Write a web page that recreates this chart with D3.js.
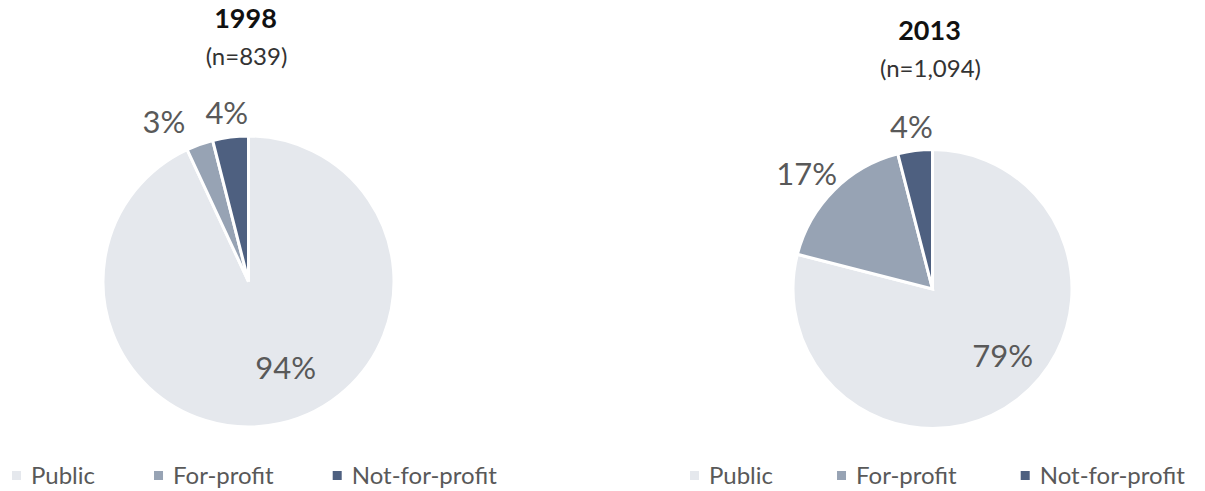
<!DOCTYPE html>
<html>
<head>
<meta charset="utf-8">
<script src="https://cdn.jsdelivr.net/npm/d3@7"></script>
<style>
  body { margin: 0; background: #fff; }
  text { font-family: Lato, "Open Sans", sans-serif; }
</style>
</head>
<body>
<div id="chart"></div>
<script>
var categories = ['Public', 'For-profit', 'Not-for-profit'];
var years = ['1998', '2013'];
var counts = ['(n=839)', '(n=1,094)'];
var values1998 = [94, 3, 4];
var values2013 = [79, 17, 4];

var width = 1205, height = 491;

var svg = d3.select('#chart').append('svg')
    .attr('width', width)
    .attr('height', height);

var colour = d3.scaleOrdinal()
    .domain(categories)
    .range(['#e5e8ed', '#97a3b4', '#4e6080']);

var charts = [
  {year: years[0], n: counts[0], values: values1998, cx: 248.5, cy: 281.5, r: 145.5, titleY: 28, legendX: 12, gap: 59},
  {year: years[1], n: counts[1], values: values2013, cx: 932.5, cy: 289, r: 139.5, titleY: 40, legendX: 690, gap: 64}
];

var pie = d3.pie().sort(null).value(function(d) { return d.value; });

charts.forEach(function(c) {
  var data = categories.map(function(k, i) { return {key: k, value: c.values[i]}; });
  var arcs = pie(data);
  var arc = d3.arc().innerRadius(0).outerRadius(c.r);

  var g = svg.append('g')
      .attr('transform', 'translate(' + c.cx + ',' + c.cy + ')');

  g.selectAll('path')
      .data(arcs)
    .enter().append('path')
      .attr('d', arc)
      .style('fill', function(d) { return colour(d.data.key); })
      .style('stroke', '#fff')
      .style('stroke-width', 3)
      .style('stroke-linejoin', 'miter');

  // titles
  svg.append('text')
      .attr('x', c.cx - 3)
      .attr('y', c.titleY)
      .style('text-anchor', 'middle')
      .style('font-size', '27px')
      .style('font-weight', 'bold')
      .style('fill', '#111')
      .text(c.year);

  svg.append('text')
      .attr('x', c.cx - 2)
      .attr('y', c.titleY + 37)
      .style('text-anchor', 'middle')
      .style('font-size', '24px')
      .style('fill', '#333')
      .text(c.n);

  // data labels: biggest slice inside, the others outside end
  var labels = g.selectAll('.label')
      .data(arcs)
    .enter().append('text')
      .attr('class', 'label')
      .style('font-size', '31px')
      .style('fill', '#595959')
      .style('text-anchor', 'middle')
      .text(function(d) { return d.data.value + '%'; });

  var placed = [];
  labels.each(function(d) {
    var box = this.getBBox();
    var a = (d.startAngle + d.endAngle) / 2;
    var x, y, inside = d.data.value > 50;
    if (inside) {
      var p = d3.arc().innerRadius(c.r * 0.61).outerRadius(c.r * 0.61).centroid(d);
      x = p[0] + 18; y = p[1];
    } else {
      var rr = c.r + 8;
      x = Math.sin(a) * rr + Math.sin(a) * box.width / 2;
      y = -Math.cos(a) * rr - Math.cos(a) * 16;
    }
    placed.push({el: this, x: x, y: y, w: box.width, inside: inside});
  });

  // push outside labels apart (from the top one going left)
  var outs = placed.filter(function(p) { return !p.inside; })
      .sort(function(a, b) { return b.x - a.x; });
  for (var i = 1; i < outs.length; i++) {
    var prev = outs[i - 1], cur = outs[i];
    var minX = prev.x - prev.w / 2 - 20 - cur.w / 2;
    if (cur.x > minX && Math.abs(cur.y - prev.y) < 30) cur.x = minX;
  }

  placed.forEach(function(p) {
    d3.select(p.el)
        .attr('x', p.x)
        .attr('y', p.y)
        .attr('dy', '0.36em');
  });

  // legend
  var lx = c.legendX;
  categories.forEach(function(k) {
    svg.append('rect')
        .attr('x', lx)
        .attr('y', 471)
        .attr('width', 9)
        .attr('height', 9)
        .style('fill', colour(k));
    var t = svg.append('text')
        .attr('x', lx + 19)
        .attr('y', 484)
        .style('font-size', '24px')
        .style('fill', '#595959')
        .text(k);
    lx += 19 + t.node().getComputedTextLength() + c.gap;
  });
});
</script>
</body>
</html>
